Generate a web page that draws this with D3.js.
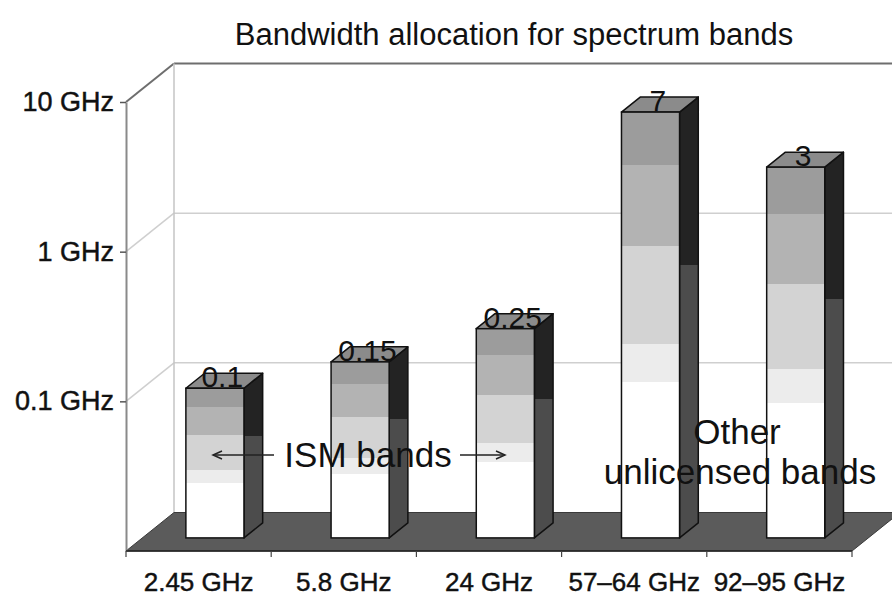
<!DOCTYPE html>
<html>
<head>
<meta charset="utf-8">
<script src="https://cdn.jsdelivr.net/npm/d3@7/dist/d3.min.js"></script>
<style>
  html, body { margin: 0; padding: 0; background: #fff; }
  svg { display: block; font-family: "Liberation Sans", Arial, Helvetica, sans-serif; }
  .heavy { stroke: #111; stroke-width: 0.45px; paint-order: stroke; }
</style>
</head>
<body>
<svg id="chart" width="892" height="596"></svg>
<script>
// Spectrum bands and their available bandwidth (GHz)
const categories = ["2.45 GHz", "5.8 GHz", "24 GHz", "57\u201364 GHz", "92\u201395 GHz"];
const bandwidthGHz = [0.1, 0.15, 0.25, 7, 3];
const valueLabels = ["0.1", "0.15", "0.25", "7", "3"];
const yTickValues = [0.1, 1, 10];
const yTickLabels = ["0.1 GHz", "1 GHz", "10 GHz"];

const svg = d3.select("#chart");
const W = 892, H = 596;

// Plot frame (front plane) and 3D depth offset
const plotLeft = 126, plotRight = 852, plotBottom = 551, plotTop = 102;
const depthX = 48, depthY = 38.5;
const d0 = 0.34, d1 = 0.73; // bar depth extent (fraction of floor depth)

const x = d3.scaleBand().domain(categories).range([plotLeft, plotRight])
  .paddingInner(0.6).paddingOuter(0.3);
const y = d3.scaleLog().domain([0.01, 10]).range([plotBottom, plotTop]);

const defs = svg.append("defs");
function bandGradient(id, stops) {
  const g = defs.append("linearGradient").attr("id", id)
    .attr("x1", 0).attr("y1", 0).attr("x2", 0).attr("y2", 1);
  stops.forEach(([a, b, c]) => {
    g.append("stop").attr("offset", a).attr("stop-color", c);
    g.append("stop").attr("offset", b).attr("stop-color", c);
  });
}
bandGradient("frontGrad", [
  [0, 0.125, "#9c9c9c"],
  [0.125, 0.315, "#b3b3b3"],
  [0.315, 0.545, "#d3d3d3"],
  [0.545, 0.635, "#ececec"],
  [0.635, 1, "#ffffff"]
]);
bandGradient("sideGrad", [
  [0, 0.38, "#232323"],
  [0.38, 1, "#4c4c4c"]
]);

// Title
svg.append("text")
  .attr("x", 514).attr("y", 45)
  .attr("text-anchor", "middle")
  .attr("font-size", 31).attr("fill", "#111")
  .text("Bandwidth allocation for spectrum bands");

// Back wall gridlines and left wall diagonals
const bx = plotLeft + depthX;
const grid = svg.append("g");
yTickValues.forEach(v => {
  const yy = y(v);
  const isTop = v === 10;
  grid.append("line")
    .attr("x1", plotLeft).attr("y1", yy).attr("x2", bx).attr("y2", yy - depthY)
    .attr("stroke", isTop ? "#6e6e6e" : "#cfcfcf").attr("stroke-width", isTop ? 2 : 1.5);
  grid.append("line")
    .attr("x1", bx).attr("y1", yy - depthY).attr("x2", W + 10).attr("y2", yy - depthY)
    .attr("stroke", isTop ? "#6e6e6e" : "#cfcfcf").attr("stroke-width", isTop ? 2.2 : 1.5);
});
// back vertical edge of the left wall
grid.append("line")
  .attr("x1", bx).attr("y1", y(10) - depthY).attr("x2", bx).attr("y2", y(0.01) - depthY)
  .attr("stroke", "#c4c4c4").attr("stroke-width", 1.5);

// Floor
svg.append("path")
  .attr("d", d3.line()([
    [plotLeft, plotBottom], [plotRight, plotBottom],
    [plotRight + depthX, plotBottom - depthY], [plotLeft + depthX, plotBottom - depthY]
  ]) + "Z")
  .attr("fill", "#5b5b5b").attr("stroke", "#3a3a3a").attr("stroke-width", 1);

// Y axis
const yAxis = svg.append("g")
  .attr("transform", `translate(${plotLeft},0)`)
  .call(d3.axisLeft(y).tickValues(yTickValues)
    .tickFormat((d, i) => yTickLabels[i]).tickSize(6).tickSizeOuter(0).tickPadding(6));
yAxis.select(".domain").attr("stroke", "#8a8a8a").attr("stroke-width", 2);
yAxis.selectAll(".tick line").attr("stroke", "#555").attr("stroke-width", 1.5);
yAxis.selectAll(".tick text").attr("font-size", 27).attr("fill", "#111").attr("class", "heavy")
  .attr("font-family", "Liberation Sans, Arial, sans-serif");

// Bars
const dx = (d1 - d0) * depthX, dy = (d1 - d0) * depthY;
const data = categories.map((c, i) => ({ c, v: bandwidthGHz[i], label: valueLabels[i] }));
const bars = svg.append("g").selectAll("g").data(data).join("g");

bars.each(function(d) {
  const g = d3.select(this);
  const xl = x(d.c) + d0 * depthX;
  const xr = xl + x.bandwidth();
  const yt = y(d.v) - d0 * depthY;
  const yb = y(0.01) - d0 * depthY;
  // right side face
  g.append("path")
    .attr("d", d3.line()([[xr, yt], [xr + dx, yt - dy], [xr + dx, yb - dy], [xr, yb]]) + "Z")
    .attr("fill", "url(#sideGrad)").attr("stroke", "#111").attr("stroke-width", 1.5)
    .attr("stroke-linejoin", "round");
  // top face
  g.append("path")
    .attr("d", d3.line()([[xl, yt], [xr, yt], [xr + dx, yt - dy], [xl + dx, yt - dy]]) + "Z")
    .attr("fill", "#8b8b8b").attr("stroke", "#111").attr("stroke-width", 1.5)
    .attr("stroke-linejoin", "round");
  // front face
  g.append("rect")
    .attr("x", xl).attr("y", yt).attr("width", xr - xl).attr("height", yb - yt)
    .attr("fill", "url(#frontGrad)").attr("stroke", "#111").attr("stroke-width", 1.5);
  // value label
  g.append("text")
    .attr("x", (xl + xr) / 2 + dx / 2 - 2).attr("y", yt - 1)
    .attr("text-anchor", "middle").attr("font-size", 30).attr("fill", "#111")
    .text(d.label);
});

// Front floor edge with category boundary ticks
const edge = svg.append("g");
edge.append("line").attr("x1", plotLeft).attr("y1", plotBottom).attr("x2", plotRight).attr("y2", plotBottom)
  .attr("stroke", "#222").attr("stroke-width", 1.5);
const step = x.step();
d3.range(categories.length + 1).forEach(i => {
  const xx = plotLeft + i * step;
  edge.append("line").attr("x1", xx).attr("y1", plotBottom).attr("x2", xx).attr("y2", plotBottom + 6)
    .attr("stroke", "#444").attr("stroke-width", 1.2);
});

// Category labels
const xAxis = svg.append("g")
  .attr("transform", `translate(0,${plotBottom})`)
  .call(d3.axisBottom(x).tickSize(0).tickPadding(22));
xAxis.select(".domain").remove();
xAxis.selectAll(".tick text").attr("font-size", 26).attr("fill", "#111").attr("class", "heavy")
  .attr("font-family", "Liberation Sans, Arial, sans-serif");

// Annotations
const ann = svg.append("g").attr("fill", "#111").attr("font-size", 35);
ann.append("text").attr("x", 368).attr("y", 467).attr("text-anchor", "middle").text("ISM bands");
function arrow(x1, x2, yy) {
  const dir = Math.sign(x2 - x1);
  ann.append("line").attr("x1", x1).attr("y1", yy).attr("x2", x2).attr("y2", yy)
    .attr("stroke", "#222").attr("stroke-width", 1.5);
  ann.append("path")
    .attr("d", d3.line()([[x2 - dir * 9, yy - 4], [x2, yy], [x2 - dir * 9, yy + 4]]))
    .attr("fill", "none").attr("stroke", "#222").attr("stroke-width", 1.5);
}
arrow(274, 213, 455);
arrow(460, 505, 455);
ann.append("text").attr("x", 737).attr("y", 444).attr("text-anchor", "middle").text("Other");
ann.append("text").attr("x", 740).attr("y", 484).attr("text-anchor", "middle").text("unlicensed bands");
</script>
</body>
</html>
